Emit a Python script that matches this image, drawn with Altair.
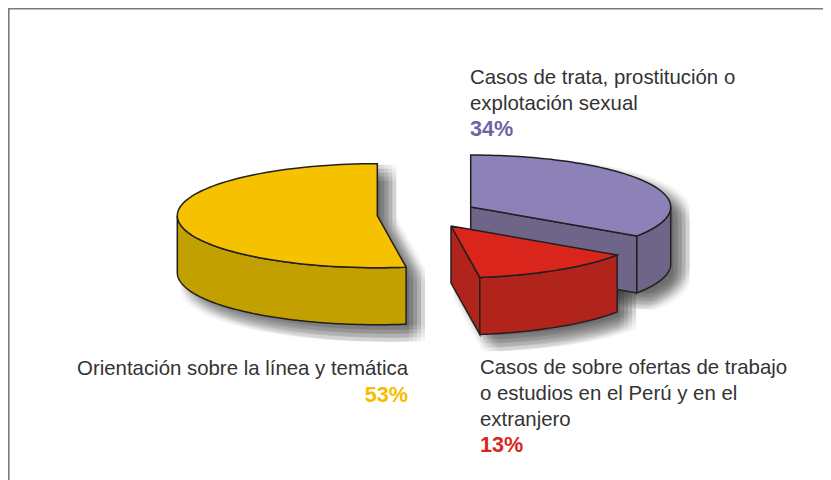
import numpy as np
import pandas as pd
import altair as alt

# ---- values
categories = ["Casos de trata, prostitución o explotación sexual",
              "Casos de sobre ofertas de trabajo o estudios en el Perú y en el extranjero",
              "Orientación sobre la línea y temática"]
percent_labels = [34, 13, 53]
drawn_shares = [34.4, 13.3, 52.3]      # slice widths as actually drawn

slice_names = ["purple", "red", "yellow"]
center_x = [470.7, 451.0, 377.3]
center_y = [207.0, 226.0, 215.7]
radius_x = 200.0
radius_y = 52.0
depth = 57.0
top_colors = {"purple": "#8d82b8", "red": "#da251c", "yellow": "#f6c200"}
wall_colors = {"purple": "#6e6589", "red": "#b0241b", "yellow": "#c2a000"}
outline = "#231f20"

text_x = [470, 470, 470, 408, 408, 480, 480, 480, 480]
text_y = [84, 110, 136, 375, 402, 374, 400, 426, 452]
text_s = ["Casos de trata, prostitución o", "explotación sexual", "34%",
          "Orientación sobre la línea y temática", "53%",
          "Casos de sobre ofertas de trabajo", "o estudios en el Perú y en el",
          "extranjero", "13%"]
text_c = ["#333333", "#333333", "#6f63a5", "#333333", "#f6bc00",
          "#333333", "#333333", "#333333", "#d9261c"]
text_b = ["normal", "normal", "bold", "normal", "bold",
          "normal", "normal", "normal", "bold"]
text_a = ["left", "left", "left", "right", "right", "left", "left", "left", "left"]

# ---- slice angles from the shares (clockwise from twelve o'clock)
edges = np.cumsum([0] + drawn_shares) * 3.6
spans = {n: (edges[i], edges[i + 1]) for i, n in enumerate(slice_names)}
centers = {n: (center_x[i], center_y[i]) for i, n in enumerate(slice_names)}


def arc(name, a0, a1, n=90):
    cx, cy = centers[name]
    t = np.radians(np.linspace(a0, a1, n))
    return np.column_stack([cx + radius_x * np.sin(t), cy - radius_y * np.cos(t)])


def top_poly(name):
    a0, a1 = spans[name]
    return np.vstack([[centers[name]], arc(name, a0, a1)])


def wall_poly(a_pts):
    return np.vstack([a_pts, (a_pts + [0, depth])[::-1]])


def cut_face(name, angle):
    p = arc(name, angle, angle, 1)[0]
    c = np.array(centers[name])
    return np.array([c, p, p + [0, depth], c + [0, depth]])


def columns(poly):
    """Cut a polygon into x-columns (low, high) so that an area mark can fill it."""
    closed = np.vstack([poly, poly[:1]])
    eps = 0.02
    xs = np.arange(poly[:, 0].min(), poly[:, 0].max(), 3.0)
    xs = np.concatenate([xs, poly[:, 0][::8], poly[:, 0][:4] - eps, poly[:, 0][:4] + eps,
                         [poly[:, 0].min() + eps, poly[:, 0].max() - eps]])
    xs = np.unique(xs[(xs > poly[:, 0].min()) & (xs < poly[:, 0].max())])
    out = []
    for x in xs:
        ys = []
        for (x1, y1), (x2, y2) in zip(closed[:-1], closed[1:]):
            if min(x1, x2) <= x <= max(x1, x2) and x1 != x2:
                ys.append(y1 + (y2 - y1) * (x - x1) / (x2 - x1))
        if len(ys) >= 2:
            out.append((x, min(ys), max(ys)))
    return out


# ---- faces in painting order
faces = []
faces.append(("yellow_wall", wall_poly(arc("yellow", spans["yellow"][0], 270)), wall_colors["yellow"]))
faces.append(("yellow_top", top_poly("yellow"), top_colors["yellow"]))
faces.append(("purple_cut", cut_face("purple", spans["purple"][1]), wall_colors["purple"]))
faces.append(("purple_wall", wall_poly(arc("purple", 90, spans["purple"][1])), wall_colors["purple"]))
faces.append(("purple_top", top_poly("purple"), top_colors["purple"]))
faces.append(("red_cut", cut_face("red", spans["red"][1]), wall_colors["red"]))
faces.append(("red_wall", wall_poly(arc("red", spans["red"][0], spans["red"][1])), wall_colors["red"]))
faces.append(("red_top", top_poly("red"), top_colors["red"]))

X = alt.Scale(domain=[8, 823], range=[0, 815], nice=False, zero=False)
Y = alt.Scale(domain=[8, 480], range=[0, 472], nice=False, zero=False)

# ---- soft shadows: stacked translucent copies of each silhouette
shadow_rows = []
for name in slice_names:
    poly = top_poly(name)
    cols = {}
    for x, lo, hi in columns(poly):
        cols[x] = (lo, hi + depth)
    base = sorted(cols)
    k = 0
    for dx in (3, 7, 11, 15, 19):
        for dy in (1, 5, 9, 13, 17):
            for x in base:
                shadow_rows.append({"g": f"{name}{k}", "x": x + dx, "y": cols[x][0] + dy,
                                    "y2": cols[x][1] + dy})
            k += 1
shadow = alt.Chart(pd.DataFrame(shadow_rows)).mark_area(
    color="#303030", opacity=0.045, interpolate="linear", line=False, clip=True
).encode(
    x=alt.X("x:Q", scale=X, axis=None),
    y=alt.Y("y:Q", scale=Y, axis=None),
    y2="y2:Q",
    detail="g:N",
)

layers = [shadow]
for fname, poly, color in faces:
    rows = [{"x": x, "y": lo, "y2": hi} for x, lo, hi in columns(poly)]
    layers.append(alt.Chart(pd.DataFrame(rows)).mark_area(color=color, opacity=1).encode(
        x=alt.X("x:Q", scale=X, axis=None),
        y=alt.Y("y:Q", scale=Y, axis=None),
        y2="y2:Q",
    ))
    ring = np.vstack([poly, poly[:1]])
    line_df = pd.DataFrame({"x": ring[:, 0], "y": ring[:, 1], "o": np.arange(len(ring))})
    layers.append(alt.Chart(line_df).mark_line(color=outline, strokeWidth=1.5, strokeJoin="miter").encode(
        x=alt.X("x:Q", scale=X, axis=None),
        y=alt.Y("y:Q", scale=Y, axis=None),
        order="o:Q",
    ))

# ---- frame
frame_col = "#7a7a7a"
left_df = pd.DataFrame({"x": [8.8], "y": [8], "y2": [480]})
top_df = pd.DataFrame({"x": [8], "x2": [823], "y": [8.8]})
layers.append(alt.Chart(left_df).mark_rule(color=frame_col, strokeWidth=1.6).encode(
    x=alt.X("x:Q", scale=X, axis=None), y=alt.Y("y:Q", scale=Y, axis=None), y2="y2:Q"))
layers.append(alt.Chart(top_df).mark_rule(color=frame_col, strokeWidth=1.6).encode(
    x=alt.X("x:Q", scale=X, axis=None), x2="x2:Q", y=alt.Y("y:Q", scale=Y, axis=None)))

# ---- text
text_df = pd.DataFrame({"x": text_x, "y": text_y, "s": text_s, "c": text_c, "b": text_b, "a": text_a})
for align in ("left", "right"):
    for weight in ("normal", "bold"):
        sub = text_df[(text_df.a == align) & (text_df.b == weight)]
        layers.append(alt.Chart(sub).mark_text(
            align=align, baseline="alphabetic", font="Liberation Sans",
            fontSize=21.6 if weight == "bold" else 20.4, fontWeight=weight
        ).encode(
            x=alt.X("x:Q", scale=X, axis=None),
            y=alt.Y("y:Q", scale=Y, axis=None),
            text="s:N",
            color=alt.Color("c:N", scale=None),
        ))

chart = alt.layer(*layers).properties(
    width=815, height=472, padding=0, autosize=alt.AutoSizeParams(type="none"),
    background="white"
).configure_view(stroke=None)

chart.save("out.html", embed_options={"renderer": "svg", "actions": False})
